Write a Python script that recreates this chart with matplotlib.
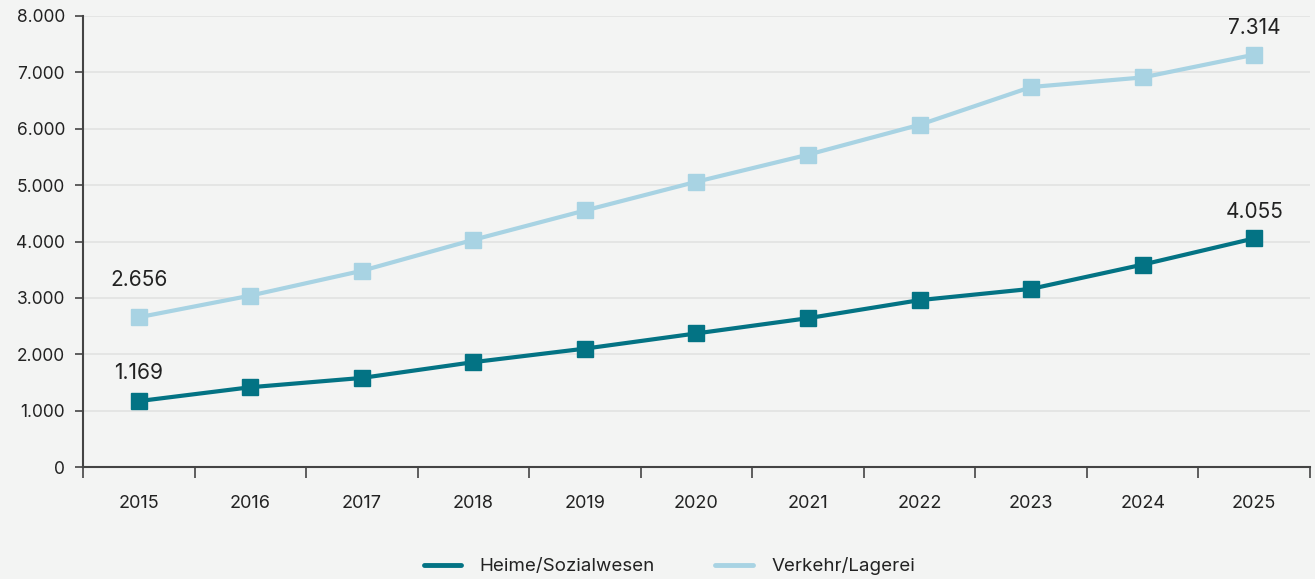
import matplotlib
matplotlib.use("Agg")
import matplotlib.pyplot as plt
from matplotlib.ticker import FuncFormatter, FixedLocator
from matplotlib.lines import Line2D

years = ["2015", "2016", "2017", "2018", "2019", "2020", "2021", "2022", "2023", "2024", "2025"]
heime = [1169, 1415, 1580, 1860, 2100, 2370, 2640, 2960, 3160, 3590, 4055]
verkehr = [2656, 3040, 3480, 4030, 4550, 5060, 5540, 6070, 6740, 6910, 7314]
series_names = ["Heime/Sozialwesen", "Verkehr/Lagerei"]
yticks = [0, 1000, 2000, 3000, 4000, 5000, 6000, 7000, 8000]

bg = "#f3f4f3"
c_dark = "#037384"
c_light = "#a8d3e3"

plt.rcParams['font.family'] = ['Inter', 'DejaVu Sans']

fig = plt.figure(figsize=(13.15, 5.79), dpi=100, facecolor=bg)
ax = fig.add_axes([0.0631, 0.1934, 0.9331, 0.779])
ax.set_facecolor(bg)

x = list(range(len(years)))
ax.plot(x, heime, color=c_dark, lw=3, marker='s', markersize=11, label=series_names[0], zorder=3)
ax.plot(x, verkehr, color=c_light, lw=3, marker='s', markersize=11, label=series_names[1], zorder=3)

ax.set_xlim(-0.5, len(years) - 0.5)
ax.set_ylim(0, 8000)
ax.set_yticks(yticks)
ax.yaxis.set_major_formatter(FuncFormatter(lambda v, p: f"{int(v):,}".replace(",", ".")))
ax.set_xticks(x)
ax.set_xticklabels(years)
ax.xaxis.set_minor_locator(FixedLocator([i - 0.5 for i in range(len(years) + 1)]))
ax.tick_params(axis='x', which='major', length=0, pad=20, labelsize=13, colors='#222222')
ax.tick_params(axis='x', which='minor', length=8, width=1.2, color='#444444')
ax.tick_params(axis='y', length=6, width=1.2, color='#444444', labelsize=12.5, labelcolor='#222222', pad=7)

ax.grid(axis='y', color='#e2e3e2', lw=1.2, zorder=0)
ax.set_axisbelow(True)
for s in ['top', 'right']:
    ax.spines[s].set_visible(False)
for s in ['left', 'bottom']:
    ax.spines[s].set_color('#444444')
    ax.spines[s].set_linewidth(1.5)

def fmt(v):
    return f"{v:,}".replace(",", ".")

ax.annotate(fmt(heime[0]), (x[0], heime[0]), xytext=(0, 20), textcoords='offset points', ha='center', va='center', fontsize=15, color='#222222')
ax.annotate(fmt(heime[-1]), (x[-1], heime[-1]), xytext=(0, 19), textcoords='offset points', ha='center', va='center', fontsize=15, color='#222222')
ax.annotate(fmt(verkehr[0]), (x[0], verkehr[0]), xytext=(0, 27), textcoords='offset points', ha='center', va='center', fontsize=15, color='#222222')
ax.annotate(fmt(verkehr[-1]), (x[-1], verkehr[-1]), xytext=(0, 19), textcoords='offset points', ha='center', va='center', fontsize=15, color='#222222')

handles = [Line2D([0], [0], color=c_dark, lw=3.5, solid_capstyle='round'),
           Line2D([0], [0], color=c_light, lw=3.5, solid_capstyle='round')]
fig.legend(handles, series_names, loc='center', bbox_to_anchor=(0.509, 0.022), ncol=2, frameon=False,
           fontsize=13.5, handlelength=2.0, columnspacing=3.2, handletextpad=1.0, labelcolor='#222222')

fig.savefig("out.png", dpi=100, facecolor=bg)
